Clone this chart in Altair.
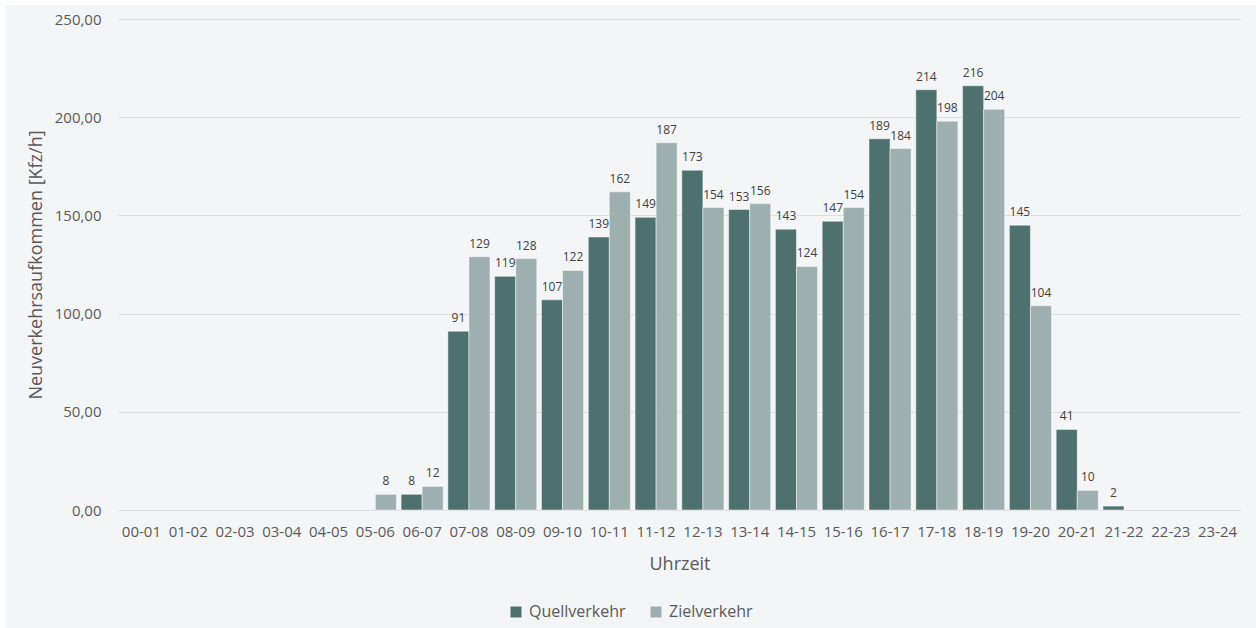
import altair as alt
import pandas as pd

# Hourly time slots
slots = ["00-01", "01-02", "02-03", "03-04", "04-05", "05-06", "06-07", "07-08",
         "08-09", "09-10", "10-11", "11-12", "12-13", "13-14", "14-15", "15-16",
         "16-17", "17-18", "18-19", "19-20", "20-21", "21-22", "22-23", "23-24"]

# Newly generated traffic per hour [Kfz/h]
quellverkehr = [0, 0, 0, 0, 0, 0, 8, 91, 119, 107, 139, 149, 173, 153, 143, 147,
                189, 214, 216, 145, 41, 2, 0, 0]
zielverkehr = [0, 0, 0, 0, 0, 8, 12, 129, 128, 122, 162, 187, 154, 156, 124, 154,
               184, 198, 204, 104, 10, 0, 0, 0]

series = ["Quellverkehr", "Zielverkehr"]
colors = ["#4E7170", "#9DB0AF"]

rows = []
for s, q, z in zip(slots, quellverkehr, zielverkehr):
    rows.append({"Uhrzeit": s, "Verkehr": "Quellverkehr", "Wert": q})
    rows.append({"Uhrzeit": s, "Verkehr": "Zielverkehr", "Wert": z})
df = pd.DataFrame(rows)

FONT = "Open Sans"
TXT = "#595959"

x_scale = alt.Scale(domain=slots, paddingInner=0.1, paddingOuter=0.05)
x_enc = alt.X("Uhrzeit:N", sort=slots, scale=x_scale,
              axis=alt.Axis(title="Uhrzeit", labelAngle=0, ticks=False, domain=False,
                            labelFontSize=15, labelColor=TXT, labelFont=FONT,
                            labelPadding=14, titleFontSize=18, titleColor=TXT,
                            titleFont=FONT, titleFontWeight="normal", titlePadding=16))
xo_enc = alt.XOffset("Verkehr:N", sort=series, scale=alt.Scale(domain=series))

base = alt.Chart(df).transform_filter("datum.Wert > 0")

bars = base.mark_bar(stroke="#ffffff", strokeWidth=0.8, strokeOpacity=0.6).encode(
    x=x_enc,
    xOffset=xo_enc,
    y=alt.Y("Wert:Q",
            scale=alt.Scale(domain=[0, 250], nice=False),
            axis=alt.Axis(title="Neuverkehrsaufkommen [Kfz/h]", values=[0, 50, 100, 150, 200, 250],
                          labelExpr="replace(format(datum.value, '.2f'), '.', ',')",
                          ticks=False, domain=False, grid=True, gridColor="#DCDDDF",
                          gridWidth=1, labelFontSize=15, labelColor=TXT, labelFont=FONT,
                          labelPadding=17, titleFontSize=18, titleColor=TXT,
                          titleFont=FONT, titleFontWeight="normal", titlePadding=9)),
    color=alt.Color("Verkehr:N", sort=series,
                    scale=alt.Scale(domain=series, range=colors),
                    legend=alt.Legend(title=None, orient="none", direction="horizontal",
                                      legendX=390, legendY=585, symbolType="square",
                                      symbolSize=121, symbolStrokeWidth=0,
                                      labelFontSize=16, labelColor=TXT, labelFont=FONT,
                                      columnPadding=22, labelOffset=5)),
)

labels = base.mark_text(baseline="bottom", dy=-6, fontSize=12, font=FONT,
                        color="#404040").encode(
    x=alt.X("Uhrzeit:N", sort=slots, scale=x_scale),
    xOffset=xo_enc,
    y="Wert:Q",
    text=alt.Text("Wert:Q", format="d"),
)

# Thin white edge along the left and top of the light panel
one = pd.DataFrame({"a": [0]})
edge_left = alt.Chart(one).mark_rect(color="#ffffff").encode(
    x=alt.value(-118), x2=alt.value(-113), y=alt.value(-19), y2=alt.value(609)
)
edge_top = alt.Chart(one).mark_rect(color="#ffffff").encode(
    x=alt.value(-118), x2=alt.value(1138), y=alt.value(-19), y2=alt.value(-14)
)

chart = alt.layer(bars, labels, edge_left, edge_top).properties(
    width=1123, height=491,
    background="#F4F5F7",
    padding={"left": 118, "top": 19, "right": 15, "bottom": 118},
    autosize=alt.AutoSizeParams(type="none"),
).configure_view(stroke=None)

chart.save("out.html", embed_options={"renderer": "svg", "actions": False})
